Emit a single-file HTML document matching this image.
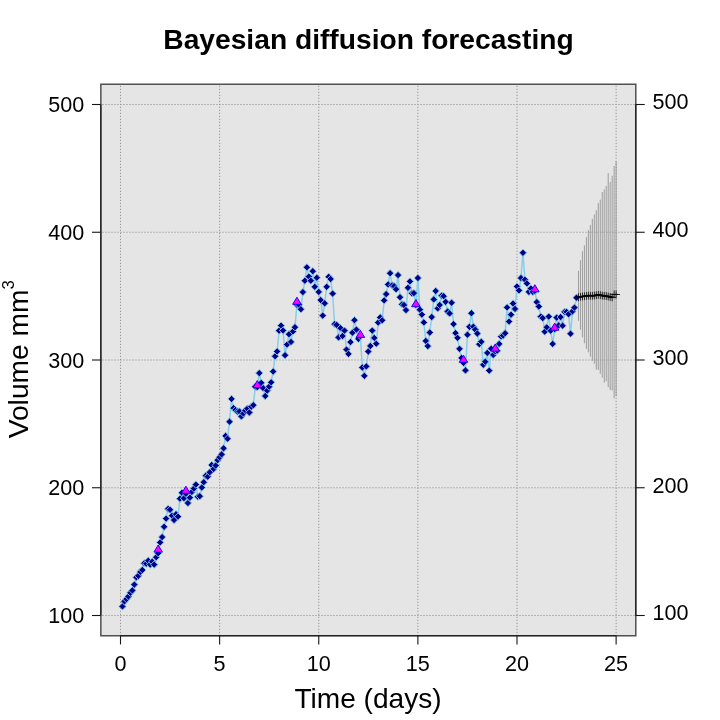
<!DOCTYPE html>
<html><head><meta charset="utf-8"><title>Bayesian diffusion forecasting</title>
<style>html,body{margin:0;padding:0;background:#fff}svg{display:block;will-change:transform}text{font-family:"Liberation Sans",sans-serif;fill:#000}</style></head>
<body><svg width="720" height="720" viewBox="0 0 720 720">
<rect x="0" y="0" width="720" height="720" fill="#ffffff"/>
<rect x="100.85" y="84.25" width="534.9499999999999" height="551.5" fill="#e5e5e5"/>
<g stroke="#9a9a9a" stroke-width="1" stroke-dasharray="1.3 1.7" fill="none">
<line x1="120.50" y1="85.75" x2="120.50" y2="635.75"/>
<line x1="219.62" y1="85.75" x2="219.62" y2="635.75"/>
<line x1="318.75" y1="85.75" x2="318.75" y2="635.75"/>
<line x1="417.88" y1="85.75" x2="417.88" y2="635.75"/>
<line x1="517.00" y1="85.75" x2="517.00" y2="635.75"/>
<line x1="616.12" y1="85.75" x2="616.12" y2="635.75"/>
<line x1="102.35" y1="615.50" x2="635.8" y2="615.50"/>
<line x1="102.35" y1="487.75" x2="635.8" y2="487.75"/>
<line x1="102.35" y1="360.00" x2="635.8" y2="360.00"/>
<line x1="102.35" y1="232.25" x2="635.8" y2="232.25"/>
<line x1="102.35" y1="104.50" x2="635.8" y2="104.50"/>
</g>
<g stroke="#939393" stroke-width="0.9" fill="none">
<line x1="578.46" y1="270.9" x2="578.46" y2="320.8"/>
<line x1="580.44" y1="260.2" x2="580.44" y2="329.6"/>
<line x1="582.42" y1="251.2" x2="582.42" y2="337.3"/>
<line x1="584.40" y1="245.3" x2="584.40" y2="343.3"/>
<line x1="586.39" y1="237.2" x2="586.39" y2="348.8"/>
<line x1="588.37" y1="230.1" x2="588.37" y2="352.4"/>
<line x1="590.35" y1="224.9" x2="590.35" y2="356.7"/>
<line x1="592.34" y1="218.9" x2="592.34" y2="360.9"/>
<line x1="594.32" y1="214.5" x2="594.32" y2="363.8"/>
<line x1="596.30" y1="210.3" x2="596.30" y2="369.6"/>
<line x1="598.28" y1="203" x2="598.28" y2="369.9"/>
<line x1="600.27" y1="199.6" x2="600.27" y2="373.8"/>
<line x1="602.25" y1="192" x2="602.25" y2="377.7"/>
<line x1="604.23" y1="189.4" x2="604.23" y2="382.6"/>
<line x1="606.21" y1="186" x2="606.21" y2="381.3"/>
<line x1="608.19" y1="173.1" x2="608.19" y2="387.1"/>
<line x1="610.18" y1="181.9" x2="610.18" y2="390"/>
<line x1="612.16" y1="175.8" x2="612.16" y2="390.5"/>
<line x1="614.14" y1="166" x2="614.14" y2="398.3"/>
<line x1="616.12" y1="161.2" x2="616.12" y2="396.2"/>
</g>
<polyline points="122.48,606.40 124.47,601.40 126.45,599.10 128.43,596.50 130.41,592.80 132.40,590.40 134.38,584.60 136.36,577.30 138.34,575.80 140.32,571.90 142.31,570.00 144.29,563.20 146.27,563.70 148.25,560.70 150.24,564.60 152.22,561.70 154.20,564.60 156.19,557.20 158.17,553.20 160.15,542.40 162.13,537.10 164.12,526.80 166.10,518.60 168.08,508.90 170.06,509.80 172.05,515.70 174.03,520.00 176.01,514.20 177.99,516.60 179.97,498.70 181.96,492.80 183.94,498.20 185.92,493.80 187.91,503.00 189.89,497.70 191.87,491.90 193.85,488.50 195.84,484.60 197.82,496.70 199.80,496.20 201.78,487.50 203.76,482.20 205.75,475.70 207.73,476.70 209.71,472.30 211.69,465.00 213.68,468.90 215.66,465.50 217.64,460.20 219.62,457.30 221.61,454.40 223.59,448.30 225.57,435.90 227.56,438.70 229.54,421.70 231.52,398.90 233.50,408.10 235.49,410.00 237.47,411.50 239.45,411.50 241.43,416.40 243.41,413.40 245.40,410.50 247.38,408.60 249.36,412.50 251.34,406.60 253.33,405.20 255.31,386.70 257.29,387.20 259.27,373.10 261.26,382.80 263.24,388.20 265.22,396.00 267.21,390.60 269.19,386.70 271.17,382.30 273.15,371.50 275.13,356.20 277.12,351.40 279.10,330.70 281.08,325.60 283.07,330.50 285.05,355.20 287.03,344.60 289.01,334.20 291.00,341.90 292.98,331.40 294.96,327.20 296.94,304.80 298.92,304.80 300.91,309.20 302.89,292.10 304.87,280.70 306.86,267.30 308.84,276.60 310.82,280.70 312.80,271.20 314.78,286.80 316.77,277.70 318.75,291.90 320.73,300.10 322.72,315.60 324.70,303.30 326.68,286.80 328.66,276.80 330.64,279.00 332.63,293.60 334.61,324.20 336.59,324.80 338.57,337.40 340.56,328.20 342.54,336.00 344.52,330.60 346.50,349.60 348.49,353.90 350.47,342.10 352.45,332.70 354.44,320.20 356.42,329.60 358.40,338.90 360.38,336.20 362.37,367.50 364.35,375.80 366.33,366.40 368.31,351.50 370.30,346.00 372.28,330.60 374.26,337.90 376.24,343.70 378.22,322.50 380.21,317.40 382.19,320.30 384.17,300.40 386.15,294.10 388.14,284.40 390.12,273.20 392.10,285.30 394.08,286.10 396.07,289.20 398.05,275.10 400.03,297.20 402.01,304.30 404.00,305.00 405.98,310.10 407.96,287.80 409.94,281.40 411.93,293.30 413.91,293.10 415.89,304.90 417.88,278.00 419.86,309.70 421.84,314.60 423.82,322.40 425.81,340.90 427.79,346.10 429.77,332.50 431.75,317.00 433.74,299.40 435.72,291.00 437.70,308.40 439.68,305.00 441.66,295.60 443.65,296.20 445.63,301.80 447.61,311.50 449.60,313.40 451.58,302.70 453.56,324.10 455.54,333.10 457.52,337.80 459.51,348.80 461.49,358.00 463.47,362.80 465.46,370.40 467.44,334.70 469.42,326.80 471.40,313.20 473.38,326.70 475.37,329.60 477.35,333.50 479.33,344.20 481.31,341.70 483.30,364.80 485.28,361.70 487.26,352.90 489.25,370.60 491.23,348.70 493.21,354.90 495.19,351.20 497.18,350.70 499.16,343.90 501.14,336.40 503.12,335.60 505.11,333.20 507.09,307.40 509.07,321.50 511.05,314.70 513.04,303.50 515.02,308.90 517.00,286.50 518.98,290.40 520.97,278.00 522.95,252.80 524.93,279.70 526.91,283.40 528.89,291.90 530.88,288.50 532.86,291.90 534.84,290.90 536.83,302.10 538.81,306.50 540.79,316.60 542.77,318.10 544.76,331.70 546.74,327.30 548.72,316.60 550.70,330.70 552.68,343.90 554.67,329.20 556.65,317.60 558.63,325.40 560.62,317.10 562.60,325.70 564.58,311.80 566.56,311.80 568.55,314.20 570.53,333.70 572.51,311.30 574.49,307.60 576.47,297.70" fill="none" stroke="#87ceeb" stroke-width="1.5" stroke-linejoin="round"/>
<g fill="#00008b" stroke="#87ceeb" stroke-width="0.9">
<path d="M122.48 602.75L126.13 606.40L122.48 610.05L118.83 606.40Z"/>
<path d="M124.47 597.75L128.12 601.40L124.47 605.05L120.81 601.40Z"/>
<path d="M126.45 595.45L130.10 599.10L126.45 602.75L122.80 599.10Z"/>
<path d="M128.43 592.85L132.08 596.50L128.43 600.15L124.78 596.50Z"/>
<path d="M130.41 589.15L134.06 592.80L130.41 596.45L126.76 592.80Z"/>
<path d="M132.40 586.75L136.05 590.40L132.40 594.05L128.75 590.40Z"/>
<path d="M134.38 580.95L138.03 584.60L134.38 588.25L130.73 584.60Z"/>
<path d="M136.36 573.65L140.01 577.30L136.36 580.95L132.71 577.30Z"/>
<path d="M138.34 572.15L141.99 575.80L138.34 579.45L134.69 575.80Z"/>
<path d="M140.32 568.25L143.97 571.90L140.32 575.55L136.67 571.90Z"/>
<path d="M142.31 566.35L145.96 570.00L142.31 573.65L138.66 570.00Z"/>
<path d="M144.29 559.55L147.94 563.20L144.29 566.85L140.64 563.20Z"/>
<path d="M146.27 560.05L149.92 563.70L146.27 567.35L142.62 563.70Z"/>
<path d="M148.25 557.05L151.91 560.70L148.25 564.35L144.60 560.70Z"/>
<path d="M150.24 560.95L153.89 564.60L150.24 568.25L146.59 564.60Z"/>
<path d="M152.22 558.05L155.87 561.70L152.22 565.35L148.57 561.70Z"/>
<path d="M154.20 560.95L157.85 564.60L154.20 568.25L150.55 564.60Z"/>
<path d="M156.19 553.55L159.84 557.20L156.19 560.85L152.53 557.20Z"/>
<path d="M158.17 549.55L161.82 553.20L158.17 556.85L154.52 553.20Z"/>
<path d="M160.15 538.75L163.80 542.40L160.15 546.05L156.50 542.40Z"/>
<path d="M162.13 533.45L165.78 537.10L162.13 540.75L158.48 537.10Z"/>
<path d="M164.12 523.15L167.77 526.80L164.12 530.45L160.47 526.80Z"/>
<path d="M166.10 514.95L169.75 518.60L166.10 522.25L162.45 518.60Z"/>
<path d="M168.08 505.25L171.73 508.90L168.08 512.55L164.43 508.90Z"/>
<path d="M170.06 506.15L173.71 509.80L170.06 513.45L166.41 509.80Z"/>
<path d="M172.05 512.05L175.70 515.70L172.05 519.35L168.40 515.70Z"/>
<path d="M174.03 516.35L177.68 520.00L174.03 523.65L170.38 520.00Z"/>
<path d="M176.01 510.55L179.66 514.20L176.01 517.85L172.36 514.20Z"/>
<path d="M177.99 512.95L181.64 516.60L177.99 520.25L174.34 516.60Z"/>
<path d="M179.97 495.05L183.62 498.70L179.97 502.35L176.32 498.70Z"/>
<path d="M181.96 489.15L185.61 492.80L181.96 496.45L178.31 492.80Z"/>
<path d="M183.94 494.55L187.59 498.20L183.94 501.85L180.29 498.20Z"/>
<path d="M185.92 490.15L189.57 493.80L185.92 497.45L182.27 493.80Z"/>
<path d="M187.91 499.35L191.56 503.00L187.91 506.65L184.25 503.00Z"/>
<path d="M189.89 494.05L193.54 497.70L189.89 501.35L186.24 497.70Z"/>
<path d="M191.87 488.25L195.52 491.90L191.87 495.55L188.22 491.90Z"/>
<path d="M193.85 484.85L197.50 488.50L193.85 492.15L190.20 488.50Z"/>
<path d="M195.84 480.95L199.49 484.60L195.84 488.25L192.19 484.60Z"/>
<path d="M197.82 493.05L201.47 496.70L197.82 500.35L194.17 496.70Z"/>
<path d="M199.80 492.55L203.45 496.20L199.80 499.85L196.15 496.20Z"/>
<path d="M201.78 483.85L205.43 487.50L201.78 491.15L198.13 487.50Z"/>
<path d="M203.76 478.55L207.41 482.20L203.76 485.85L200.11 482.20Z"/>
<path d="M205.75 472.05L209.40 475.70L205.75 479.35L202.10 475.70Z"/>
<path d="M207.73 473.05L211.38 476.70L207.73 480.35L204.08 476.70Z"/>
<path d="M209.71 468.65L213.36 472.30L209.71 475.95L206.06 472.30Z"/>
<path d="M211.69 461.35L215.34 465.00L211.69 468.65L208.04 465.00Z"/>
<path d="M213.68 465.25L217.33 468.90L213.68 472.55L210.03 468.90Z"/>
<path d="M215.66 461.85L219.31 465.50L215.66 469.15L212.01 465.50Z"/>
<path d="M217.64 456.55L221.29 460.20L217.64 463.85L213.99 460.20Z"/>
<path d="M219.62 453.65L223.28 457.30L219.62 460.95L215.97 457.30Z"/>
<path d="M221.61 450.75L225.26 454.40L221.61 458.05L217.96 454.40Z"/>
<path d="M223.59 444.65L227.24 448.30L223.59 451.95L219.94 448.30Z"/>
<path d="M225.57 432.25L229.22 435.90L225.57 439.55L221.92 435.90Z"/>
<path d="M227.56 435.05L231.21 438.70L227.56 442.35L223.91 438.70Z"/>
<path d="M229.54 418.05L233.19 421.70L229.54 425.35L225.89 421.70Z"/>
<path d="M231.52 395.25L235.17 398.90L231.52 402.55L227.87 398.90Z"/>
<path d="M233.50 404.45L237.15 408.10L233.50 411.75L229.85 408.10Z"/>
<path d="M235.49 406.35L239.14 410.00L235.49 413.65L231.84 410.00Z"/>
<path d="M237.47 407.85L241.12 411.50L237.47 415.15L233.82 411.50Z"/>
<path d="M239.45 407.85L243.10 411.50L239.45 415.15L235.80 411.50Z"/>
<path d="M241.43 412.75L245.08 416.40L241.43 420.05L237.78 416.40Z"/>
<path d="M243.41 409.75L247.06 413.40L243.41 417.05L239.76 413.40Z"/>
<path d="M245.40 406.85L249.05 410.50L245.40 414.15L241.75 410.50Z"/>
<path d="M247.38 404.95L251.03 408.60L247.38 412.25L243.73 408.60Z"/>
<path d="M249.36 408.85L253.01 412.50L249.36 416.15L245.71 412.50Z"/>
<path d="M251.34 402.95L255.00 406.60L251.34 410.25L247.69 406.60Z"/>
<path d="M253.33 401.55L256.98 405.20L253.33 408.85L249.68 405.20Z"/>
<path d="M255.31 383.05L258.96 386.70L255.31 390.35L251.66 386.70Z"/>
<path d="M257.29 383.55L260.94 387.20L257.29 390.85L253.64 387.20Z"/>
<path d="M259.27 369.45L262.92 373.10L259.27 376.75L255.62 373.10Z"/>
<path d="M261.26 379.15L264.91 382.80L261.26 386.45L257.61 382.80Z"/>
<path d="M263.24 384.55L266.89 388.20L263.24 391.85L259.59 388.20Z"/>
<path d="M265.22 392.35L268.87 396.00L265.22 399.65L261.57 396.00Z"/>
<path d="M267.21 386.95L270.86 390.60L267.21 394.25L263.56 390.60Z"/>
<path d="M269.19 383.05L272.84 386.70L269.19 390.35L265.54 386.70Z"/>
<path d="M271.17 378.65L274.82 382.30L271.17 385.95L267.52 382.30Z"/>
<path d="M273.15 367.85L276.80 371.50L273.15 375.15L269.50 371.50Z"/>
<path d="M275.13 352.55L278.78 356.20L275.13 359.85L271.49 356.20Z"/>
<path d="M277.12 347.75L280.77 351.40L277.12 355.05L273.47 351.40Z"/>
<path d="M279.10 327.05L282.75 330.70L279.10 334.35L275.45 330.70Z"/>
<path d="M281.08 321.95L284.73 325.60L281.08 329.25L277.43 325.60Z"/>
<path d="M283.07 326.85L286.72 330.50L283.07 334.15L279.42 330.50Z"/>
<path d="M285.05 351.55L288.70 355.20L285.05 358.85L281.40 355.20Z"/>
<path d="M287.03 340.95L290.68 344.60L287.03 348.25L283.38 344.60Z"/>
<path d="M289.01 330.55L292.66 334.20L289.01 337.85L285.36 334.20Z"/>
<path d="M291.00 338.25L294.64 341.90L291.00 345.55L287.35 341.90Z"/>
<path d="M292.98 327.75L296.63 331.40L292.98 335.05L289.33 331.40Z"/>
<path d="M294.96 323.55L298.61 327.20L294.96 330.85L291.31 327.20Z"/>
<path d="M296.94 301.15L300.59 304.80L296.94 308.45L293.29 304.80Z"/>
<path d="M298.92 301.15L302.57 304.80L298.92 308.45L295.27 304.80Z"/>
<path d="M300.91 305.55L304.56 309.20L300.91 312.85L297.26 309.20Z"/>
<path d="M302.89 288.45L306.54 292.10L302.89 295.75L299.24 292.10Z"/>
<path d="M304.87 277.05L308.52 280.70L304.87 284.35L301.22 280.70Z"/>
<path d="M306.86 263.65L310.50 267.30L306.86 270.95L303.21 267.30Z"/>
<path d="M308.84 272.95L312.49 276.60L308.84 280.25L305.19 276.60Z"/>
<path d="M310.82 277.05L314.47 280.70L310.82 284.35L307.17 280.70Z"/>
<path d="M312.80 267.55L316.45 271.20L312.80 274.85L309.15 271.20Z"/>
<path d="M314.78 283.15L318.43 286.80L314.78 290.45L311.13 286.80Z"/>
<path d="M316.77 274.05L320.42 277.70L316.77 281.35L313.12 277.70Z"/>
<path d="M318.75 288.25L322.40 291.90L318.75 295.55L315.10 291.90Z"/>
<path d="M320.73 296.45L324.38 300.10L320.73 303.75L317.08 300.10Z"/>
<path d="M322.72 311.95L326.37 315.60L322.72 319.25L319.07 315.60Z"/>
<path d="M324.70 299.65L328.35 303.30L324.70 306.95L321.05 303.30Z"/>
<path d="M326.68 283.15L330.33 286.80L326.68 290.45L323.03 286.80Z"/>
<path d="M328.66 273.15L332.31 276.80L328.66 280.45L325.01 276.80Z"/>
<path d="M330.64 275.35L334.29 279.00L330.64 282.65L327.00 279.00Z"/>
<path d="M332.63 289.95L336.28 293.60L332.63 297.25L328.98 293.60Z"/>
<path d="M334.61 320.55L338.26 324.20L334.61 327.85L330.96 324.20Z"/>
<path d="M336.59 321.15L340.24 324.80L336.59 328.45L332.94 324.80Z"/>
<path d="M338.57 333.75L342.22 337.40L338.57 341.05L334.93 337.40Z"/>
<path d="M340.56 324.55L344.21 328.20L340.56 331.85L336.91 328.20Z"/>
<path d="M342.54 332.35L346.19 336.00L342.54 339.65L338.89 336.00Z"/>
<path d="M344.52 326.95L348.17 330.60L344.52 334.25L340.87 330.60Z"/>
<path d="M346.50 345.95L350.15 349.60L346.50 353.25L342.86 349.60Z"/>
<path d="M348.49 350.25L352.14 353.90L348.49 357.55L344.84 353.90Z"/>
<path d="M350.47 338.45L354.12 342.10L350.47 345.75L346.82 342.10Z"/>
<path d="M352.45 329.05L356.10 332.70L352.45 336.35L348.80 332.70Z"/>
<path d="M354.44 316.55L358.08 320.20L354.44 323.85L350.79 320.20Z"/>
<path d="M356.42 325.95L360.07 329.60L356.42 333.25L352.77 329.60Z"/>
<path d="M358.40 335.25L362.05 338.90L358.40 342.55L354.75 338.90Z"/>
<path d="M360.38 332.55L364.03 336.20L360.38 339.85L356.73 336.20Z"/>
<path d="M362.37 363.85L366.01 367.50L362.37 371.15L358.72 367.50Z"/>
<path d="M364.35 372.15L368.00 375.80L364.35 379.45L360.70 375.80Z"/>
<path d="M366.33 362.75L369.98 366.40L366.33 370.05L362.68 366.40Z"/>
<path d="M368.31 347.85L371.96 351.50L368.31 355.15L364.66 351.50Z"/>
<path d="M370.30 342.35L373.94 346.00L370.30 349.65L366.65 346.00Z"/>
<path d="M372.28 326.95L375.93 330.60L372.28 334.25L368.63 330.60Z"/>
<path d="M374.26 334.25L377.91 337.90L374.26 341.55L370.61 337.90Z"/>
<path d="M376.24 340.05L379.89 343.70L376.24 347.35L372.59 343.70Z"/>
<path d="M378.22 318.85L381.87 322.50L378.22 326.15L374.57 322.50Z"/>
<path d="M380.21 313.75L383.86 317.40L380.21 321.05L376.56 317.40Z"/>
<path d="M382.19 316.65L385.84 320.30L382.19 323.95L378.54 320.30Z"/>
<path d="M384.17 296.75L387.82 300.40L384.17 304.05L380.52 300.40Z"/>
<path d="M386.15 290.45L389.80 294.10L386.15 297.75L382.50 294.10Z"/>
<path d="M388.14 280.75L391.79 284.40L388.14 288.05L384.49 284.40Z"/>
<path d="M390.12 269.55L393.77 273.20L390.12 276.85L386.47 273.20Z"/>
<path d="M392.10 281.65L395.75 285.30L392.10 288.95L388.45 285.30Z"/>
<path d="M394.08 282.45L397.73 286.10L394.08 289.75L390.44 286.10Z"/>
<path d="M396.07 285.55L399.72 289.20L396.07 292.85L392.42 289.20Z"/>
<path d="M398.05 271.45L401.70 275.10L398.05 278.75L394.40 275.10Z"/>
<path d="M400.03 293.55L403.68 297.20L400.03 300.85L396.38 297.20Z"/>
<path d="M402.01 300.65L405.66 304.30L402.01 307.95L398.37 304.30Z"/>
<path d="M404.00 301.35L407.65 305.00L404.00 308.65L400.35 305.00Z"/>
<path d="M405.98 306.45L409.63 310.10L405.98 313.75L402.33 310.10Z"/>
<path d="M407.96 284.15L411.61 287.80L407.96 291.45L404.31 287.80Z"/>
<path d="M409.94 277.75L413.59 281.40L409.94 285.05L406.30 281.40Z"/>
<path d="M411.93 289.65L415.58 293.30L411.93 296.95L408.28 293.30Z"/>
<path d="M413.91 289.45L417.56 293.10L413.91 296.75L410.26 293.10Z"/>
<path d="M415.89 301.25L419.54 304.90L415.89 308.55L412.24 304.90Z"/>
<path d="M417.88 274.35L421.52 278.00L417.88 281.65L414.23 278.00Z"/>
<path d="M419.86 306.05L423.51 309.70L419.86 313.35L416.21 309.70Z"/>
<path d="M421.84 310.95L425.49 314.60L421.84 318.25L418.19 314.60Z"/>
<path d="M423.82 318.75L427.47 322.40L423.82 326.05L420.17 322.40Z"/>
<path d="M425.81 337.25L429.45 340.90L425.81 344.55L422.16 340.90Z"/>
<path d="M427.79 342.45L431.44 346.10L427.79 349.75L424.14 346.10Z"/>
<path d="M429.77 328.85L433.42 332.50L429.77 336.15L426.12 332.50Z"/>
<path d="M431.75 313.35L435.40 317.00L431.75 320.65L428.10 317.00Z"/>
<path d="M433.74 295.75L437.38 299.40L433.74 303.05L430.09 299.40Z"/>
<path d="M435.72 287.35L439.37 291.00L435.72 294.65L432.07 291.00Z"/>
<path d="M437.70 304.75L441.35 308.40L437.70 312.05L434.05 308.40Z"/>
<path d="M439.68 301.35L443.33 305.00L439.68 308.65L436.03 305.00Z"/>
<path d="M441.66 291.95L445.31 295.60L441.66 299.25L438.01 295.60Z"/>
<path d="M443.65 292.55L447.30 296.20L443.65 299.85L440.00 296.20Z"/>
<path d="M445.63 298.15L449.28 301.80L445.63 305.45L441.98 301.80Z"/>
<path d="M447.61 307.85L451.26 311.50L447.61 315.15L443.96 311.50Z"/>
<path d="M449.60 309.75L453.25 313.40L449.60 317.05L445.95 313.40Z"/>
<path d="M451.58 299.05L455.23 302.70L451.58 306.35L447.93 302.70Z"/>
<path d="M453.56 320.45L457.21 324.10L453.56 327.75L449.91 324.10Z"/>
<path d="M455.54 329.45L459.19 333.10L455.54 336.75L451.89 333.10Z"/>
<path d="M457.52 334.15L461.17 337.80L457.52 341.45L453.88 337.80Z"/>
<path d="M459.51 345.15L463.16 348.80L459.51 352.45L455.86 348.80Z"/>
<path d="M461.49 354.35L465.14 358.00L461.49 361.65L457.84 358.00Z"/>
<path d="M463.47 359.15L467.12 362.80L463.47 366.45L459.82 362.80Z"/>
<path d="M465.46 366.75L469.11 370.40L465.46 374.05L461.81 370.40Z"/>
<path d="M467.44 331.05L471.09 334.70L467.44 338.35L463.79 334.70Z"/>
<path d="M469.42 323.15L473.07 326.80L469.42 330.45L465.77 326.80Z"/>
<path d="M471.40 309.55L475.05 313.20L471.40 316.85L467.75 313.20Z"/>
<path d="M473.38 323.05L477.03 326.70L473.38 330.35L469.74 326.70Z"/>
<path d="M475.37 325.95L479.02 329.60L475.37 333.25L471.72 329.60Z"/>
<path d="M477.35 329.85L481.00 333.50L477.35 337.15L473.70 333.50Z"/>
<path d="M479.33 340.55L482.98 344.20L479.33 347.85L475.68 344.20Z"/>
<path d="M481.31 338.05L484.96 341.70L481.31 345.35L477.67 341.70Z"/>
<path d="M483.30 361.15L486.95 364.80L483.30 368.45L479.65 364.80Z"/>
<path d="M485.28 358.05L488.93 361.70L485.28 365.35L481.63 361.70Z"/>
<path d="M487.26 349.25L490.91 352.90L487.26 356.55L483.61 352.90Z"/>
<path d="M489.25 366.95L492.89 370.60L489.25 374.25L485.60 370.60Z"/>
<path d="M491.23 345.05L494.88 348.70L491.23 352.35L487.58 348.70Z"/>
<path d="M493.21 351.25L496.86 354.90L493.21 358.55L489.56 354.90Z"/>
<path d="M495.19 347.55L498.84 351.20L495.19 354.85L491.54 351.20Z"/>
<path d="M497.18 347.05L500.82 350.70L497.18 354.35L493.53 350.70Z"/>
<path d="M499.16 340.25L502.81 343.90L499.16 347.55L495.51 343.90Z"/>
<path d="M501.14 332.75L504.79 336.40L501.14 340.05L497.49 336.40Z"/>
<path d="M503.12 331.95L506.77 335.60L503.12 339.25L499.47 335.60Z"/>
<path d="M505.11 329.55L508.75 333.20L505.11 336.85L501.46 333.20Z"/>
<path d="M507.09 303.75L510.74 307.40L507.09 311.05L503.44 307.40Z"/>
<path d="M509.07 317.85L512.72 321.50L509.07 325.15L505.42 321.50Z"/>
<path d="M511.05 311.05L514.70 314.70L511.05 318.35L507.40 314.70Z"/>
<path d="M513.04 299.85L516.69 303.50L513.04 307.15L509.39 303.50Z"/>
<path d="M515.02 305.25L518.67 308.90L515.02 312.55L511.37 308.90Z"/>
<path d="M517.00 282.85L520.65 286.50L517.00 290.15L513.35 286.50Z"/>
<path d="M518.98 286.75L522.63 290.40L518.98 294.05L515.33 290.40Z"/>
<path d="M520.97 274.35L524.62 278.00L520.97 281.65L517.32 278.00Z"/>
<path d="M522.95 249.15L526.60 252.80L522.95 256.45L519.30 252.80Z"/>
<path d="M524.93 276.05L528.58 279.70L524.93 283.35L521.28 279.70Z"/>
<path d="M526.91 279.75L530.56 283.40L526.91 287.05L523.26 283.40Z"/>
<path d="M528.89 288.25L532.54 291.90L528.89 295.55L525.25 291.90Z"/>
<path d="M530.88 284.85L534.53 288.50L530.88 292.15L527.23 288.50Z"/>
<path d="M532.86 288.25L536.51 291.90L532.86 295.55L529.21 291.90Z"/>
<path d="M534.84 287.25L538.49 290.90L534.84 294.55L531.19 290.90Z"/>
<path d="M536.83 298.45L540.48 302.10L536.83 305.75L533.18 302.10Z"/>
<path d="M538.81 302.85L542.46 306.50L538.81 310.15L535.16 306.50Z"/>
<path d="M540.79 312.95L544.44 316.60L540.79 320.25L537.14 316.60Z"/>
<path d="M542.77 314.45L546.42 318.10L542.77 321.75L539.12 318.10Z"/>
<path d="M544.76 328.05L548.41 331.70L544.76 335.35L541.11 331.70Z"/>
<path d="M546.74 323.65L550.39 327.30L546.74 330.95L543.09 327.30Z"/>
<path d="M548.72 312.95L552.37 316.60L548.72 320.25L545.07 316.60Z"/>
<path d="M550.70 327.05L554.35 330.70L550.70 334.35L547.05 330.70Z"/>
<path d="M552.68 340.25L556.33 343.90L552.68 347.55L549.03 343.90Z"/>
<path d="M554.67 325.55L558.32 329.20L554.67 332.85L551.02 329.20Z"/>
<path d="M556.65 313.95L560.30 317.60L556.65 321.25L553.00 317.60Z"/>
<path d="M558.63 321.75L562.28 325.40L558.63 329.05L554.98 325.40Z"/>
<path d="M560.62 313.45L564.26 317.10L560.62 320.75L556.97 317.10Z"/>
<path d="M562.60 322.05L566.25 325.70L562.60 329.35L558.95 325.70Z"/>
<path d="M564.58 308.15L568.23 311.80L564.58 315.45L560.93 311.80Z"/>
<path d="M566.56 308.15L570.21 311.80L566.56 315.45L562.91 311.80Z"/>
<path d="M568.55 310.55L572.20 314.20L568.55 317.85L564.90 314.20Z"/>
<path d="M570.53 330.05L574.18 333.70L570.53 337.35L566.88 333.70Z"/>
<path d="M572.51 307.65L576.16 311.30L572.51 314.95L568.86 311.30Z"/>
<path d="M574.49 303.95L578.14 307.60L574.49 311.25L570.84 307.60Z"/>
<path d="M576.47 294.05L580.12 297.70L576.47 301.35L572.82 297.70Z"/>
</g>
<g fill="#ff00ff" stroke="#0000ff" stroke-width="0.9" stroke-linejoin="miter">
<path d="M158.17 545.00L162.47 552.10L153.87 552.10Z"/>
<path d="M185.92 486.20L190.22 493.30L181.62 493.30Z"/>
<path d="M257.29 380.60L261.59 387.70L252.99 387.70Z"/>
<path d="M296.94 297.20L301.24 304.30L292.64 304.30Z"/>
<path d="M360.38 330.30L364.68 337.40L356.08 337.40Z"/>
<path d="M415.89 299.60L420.19 306.70L411.59 306.70Z"/>
<path d="M463.47 355.20L467.77 362.30L459.17 362.30Z"/>
<path d="M495.19 344.00L499.49 351.10L490.89 351.10Z"/>
<path d="M534.84 284.70L539.14 291.80L530.54 291.80Z"/>
<path d="M554.67 323.10L558.97 330.20L550.37 330.20Z"/>
</g>
<polyline points="576.47,297.5 578.46,297.2 580.44,296.8 582.42,296.5 584.40,296.2 586.39,295.9 588.37,295.6 590.35,295.7 592.34,295.8 594.32,295.6 596.30,295.2 598.28,294.8 600.27,295.1 602.25,295.6 604.23,295.8 606.21,296 608.19,296.5 610.18,296.9 612.16,297.4" fill="none" stroke="#000" stroke-width="1.7" stroke-linejoin="round"/>
<g stroke="#000" stroke-width="0.8" fill="none">
<path d="M574.56 297.2H582.36M578.46 293.30V301.10"/>
<path d="M576.54 296.8H584.34M580.44 292.90V300.70"/>
<path d="M578.52 296.5H586.32M582.42 292.60V300.40"/>
<path d="M580.50 296.2H588.30M584.40 292.30V300.10"/>
<path d="M582.49 295.9H590.29M586.39 292.00V299.80"/>
<path d="M584.47 295.6H592.27M588.37 291.70V299.50"/>
<path d="M586.45 295.7H594.25M590.35 291.80V299.60"/>
<path d="M588.44 295.8H596.24M592.34 291.90V299.70"/>
<path d="M590.42 295.6H598.22M594.32 291.70V299.50"/>
<path d="M592.40 295.2H600.20M596.30 291.30V299.10"/>
<path d="M594.38 294.8H602.18M598.28 290.90V298.70"/>
<path d="M596.37 295.1H604.17M600.27 291.20V299.00"/>
<path d="M598.35 295.6H606.15M602.25 291.70V299.50"/>
<path d="M600.33 295.8H608.13M604.23 291.90V299.70"/>
<path d="M602.31 296H610.11M606.21 292.10V299.90"/>
<path d="M604.29 296.5H612.09M608.19 292.60V300.40"/>
<path d="M606.28 296.9H614.08M610.18 293.00V300.80"/>
<path d="M608.26 297.4H616.06M612.16 293.50V301.30"/>
<path d="M610.24 294.4H618.04M614.14 290.50V298.30"/>
<path d="M612.23 294.5H620.02M616.12 290.60V298.40"/>
</g>
<rect x="100.85" y="84.25" width="534.9499999999999" height="551.5" fill="none" stroke="#505050" stroke-width="1.5"/>
<g stroke="#151515" stroke-width="1.1" fill="none">
<line x1="120.5" y1="635.75" x2="616.125" y2="635.75"/>
<line x1="120.5" y1="635.75" x2="120.5" y2="644.45"/>
<line x1="219.625" y1="635.75" x2="219.625" y2="644.45"/>
<line x1="318.75" y1="635.75" x2="318.75" y2="644.45"/>
<line x1="417.875" y1="635.75" x2="417.875" y2="644.45"/>
<line x1="517.0" y1="635.75" x2="517.0" y2="644.45"/>
<line x1="616.125" y1="635.75" x2="616.125" y2="644.45"/>
<line x1="100.85" y1="615.5" x2="100.85" y2="104.49999999999994"/>
<line x1="92.0" y1="615.50" x2="100.85" y2="615.50"/>
<line x1="92.0" y1="487.75" x2="100.85" y2="487.75"/>
<line x1="92.0" y1="360.00" x2="100.85" y2="360.00"/>
<line x1="92.0" y1="232.25" x2="100.85" y2="232.25"/>
<line x1="92.0" y1="104.50" x2="100.85" y2="104.50"/>
<line x1="635.8" y1="615.5" x2="635.8" y2="104.49999999999994"/>
<line x1="635.8" y1="615.50" x2="644.6999999999999" y2="615.50"/>
<line x1="635.8" y1="487.75" x2="644.6999999999999" y2="487.75"/>
<line x1="635.8" y1="360.00" x2="644.6999999999999" y2="360.00"/>
<line x1="635.8" y1="232.25" x2="644.6999999999999" y2="232.25"/>
<line x1="635.8" y1="104.50" x2="644.6999999999999" y2="104.50"/>
</g>
<g font-size="21.6px">
<text x="120.50" y="670.8" text-anchor="middle">0</text>
<text x="219.62" y="670.8" text-anchor="middle">5</text>
<text x="318.75" y="670.8" text-anchor="middle">10</text>
<text x="417.88" y="670.8" text-anchor="middle">15</text>
<text x="517.00" y="670.8" text-anchor="middle">20</text>
<text x="616.12" y="670.8" text-anchor="middle">25</text>
<text x="84.2" y="623.20" text-anchor="end">100</text>
<text x="84.2" y="495.45" text-anchor="end">200</text>
<text x="84.2" y="367.70" text-anchor="end">300</text>
<text x="84.2" y="239.95" text-anchor="end">400</text>
<text x="84.2" y="112.20" text-anchor="end">500</text>
<text x="652.4" y="620.40" text-anchor="start">100</text>
<text x="652.4" y="492.65" text-anchor="start">200</text>
<text x="652.4" y="364.90" text-anchor="start">300</text>
<text x="652.4" y="237.15" text-anchor="start">400</text>
<text x="652.4" y="109.40" text-anchor="start">500</text>
</g>
<text x="368.5" y="48.6" text-anchor="middle" font-size="28.2px" font-weight="bold">Bayesian diffusion forecasting</text>
<text x="368" y="707.5" text-anchor="middle" font-size="28.1px">Time (days)</text>
<text transform="translate(28,438.3) rotate(-90)" text-anchor="start" font-size="28.2px">Volume mm<tspan font-size="16.8px" dy="-14.2">3</tspan></text>
</svg></body></html>
